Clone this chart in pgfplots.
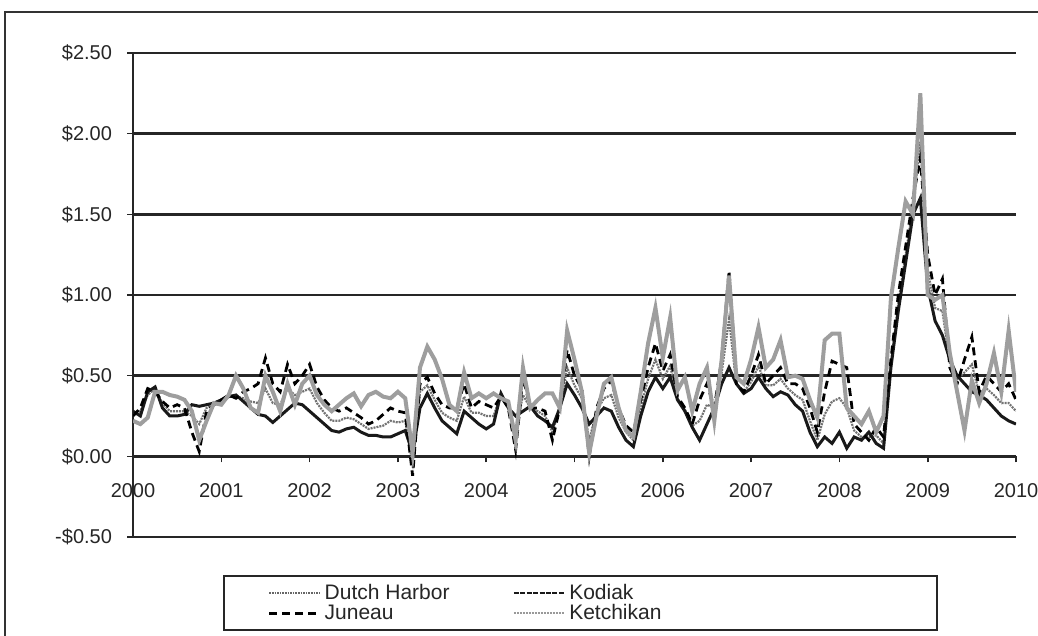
\documentclass[border=0pt]{standalone}
\usepackage{fontspec}
\setmainfont{Liberation Sans}
\usepackage{pgfplots}
\pgfplotsset{compat=1.18}
\usepackage{pgfplotstable}

\pgfplotstableread{
m DH KO JU KE
0 0.26 0.28 0.25 0.22
1 0.28 0.25 0.30 0.20
2 0.38 0.40 0.42 0.24
3 0.42 0.43 0.40 0.40
4 0.33 0.30 0.34 0.40
5 0.28 0.25 0.30 0.38
6 0.28 0.25 0.32 0.37
7 0.28 0.26 0.30 0.35
8 0.25 0.32 0.15 0.28
9 0.20 0.31 0.03 0.10
10 0.30 0.32 0.28 0.22
11 0.32 0.33 0.32 0.33
12 0.34 0.35 0.35 0.32
13 0.37 0.37 0.38 0.38
14 0.37 0.38 0.36 0.50
15 0.36 0.34 0.40 0.42
16 0.34 0.30 0.42 0.30
17 0.33 0.26 0.45 0.27
18 0.42 0.25 0.61 0.50
19 0.33 0.21 0.45 0.40
20 0.32 0.25 0.40 0.28
21 0.42 0.29 0.57 0.45
22 0.38 0.33 0.45 0.32
23 0.40 0.32 0.50 0.45
24 0.42 0.28 0.57 0.50
25 0.33 0.24 0.43 0.38
26 0.27 0.20 0.35 0.32
27 0.22 0.16 0.30 0.28
28 0.22 0.15 0.28 0.32
29 0.24 0.17 0.30 0.36
30 0.23 0.18 0.27 0.39
31 0.20 0.15 0.24 0.31
32 0.17 0.13 0.20 0.38
33 0.18 0.13 0.22 0.40
34 0.19 0.12 0.26 0.37
35 0.22 0.12 0.30 0.36
36 0.21 0.14 0.28 0.40
37 0.22 0.16 0.27 0.36
38 -0.05 0.02 -0.12 0.02
39 0.40 0.30 0.45 0.55
40 0.44 0.39 0.49 0.68
41 0.35 0.30 0.39 0.60
42 0.27 0.22 0.32 0.48
43 0.24 0.18 0.30 0.32
44 0.22 0.14 0.30 0.28
45 0.37 0.28 0.45 0.52
46 0.27 0.24 0.30 0.36
47 0.27 0.20 0.34 0.39
48 0.25 0.17 0.32 0.36
49 0.25 0.20 0.30 0.39
50 0.38 0.39 0.37 0.36
51 0.30 0.30 0.30 0.34
52 0.15 0.25 0.04 0.10
53 0.38 0.28 0.49 0.55
54 0.30 0.31 0.30 0.30
55 0.28 0.25 0.30 0.35
56 0.25 0.22 0.28 0.39
57 0.15 0.18 0.10 0.39
58 0.30 0.30 0.30 0.30
59 0.55 0.45 0.66 0.78
60 0.44 0.38 0.50 0.60
61 0.36 0.30 0.42 0.40
62 0.10 0.20 0.00 0.02
63 0.28 0.25 0.30 0.25
64 0.36 0.30 0.42 0.45
65 0.38 0.28 0.47 0.49
66 0.24 0.18 0.30 0.30
67 0.15 0.10 0.19 0.16
68 0.10 0.06 0.15 0.12
69 0.30 0.25 0.35 0.40
70 0.48 0.40 0.55 0.70
71 0.60 0.49 0.70 0.92
72 0.48 0.42 0.53 0.61
73 0.56 0.49 0.63 0.86
74 0.36 0.35 0.37 0.41
75 0.29 0.28 0.30 0.49
76 0.19 0.18 0.20 0.28
77 0.22 0.10 0.35 0.45
78 0.32 0.20 0.45 0.55
79 0.30 0.30 0.30 0.22
80 0.52 0.45 0.60 0.60
81 0.85 0.55 1.15 1.12
82 0.45 0.45 0.45 0.49
83 0.40 0.39 0.40 0.45
84 0.46 0.42 0.50 0.60
85 0.56 0.49 0.63 0.80
86 0.44 0.42 0.45 0.55
87 0.44 0.37 0.50 0.60
88 0.48 0.40 0.55 0.72
89 0.42 0.38 0.45 0.49
90 0.38 0.32 0.45 0.50
91 0.35 0.28 0.42 0.48
92 0.22 0.15 0.30 0.35
93 0.10 0.06 0.15 0.24
94 0.26 0.12 0.40 0.72
95 0.34 0.08 0.59 0.76
96 0.36 0.15 0.57 0.76
97 0.30 0.05 0.55 0.30
98 0.16 0.12 0.20 0.25
99 0.12 0.10 0.15 0.20
100 0.12 0.15 0.10 0.28
101 0.13 0.08 0.18 0.15
102 0.08 0.05 0.12 0.25
103 0.58 0.55 0.60 0.98
104 0.95 0.90 1.00 1.29
105 1.25 1.20 1.30 1.58
106 1.55 1.50 1.60 1.50
107 1.95 1.60 1.85 2.25
108 1.15 1.05 1.25 1.00
109 0.92 0.84 1.00 0.97
110 0.90 0.75 1.10 1.00
111 0.58 0.60 0.55 0.64
112 0.48 0.50 0.45 0.40
113 0.52 0.45 0.60 0.16
114 0.57 0.40 0.74 0.47
115 0.39 0.38 0.40 0.33
116 0.42 0.35 0.50 0.45
117 0.38 0.30 0.45 0.64
118 0.33 0.25 0.40 0.40
119 0.33 0.22 0.45 0.78
120 0.28 0.20 0.35 0.40
}\data

\begin{document}
\begin{tikzpicture}
\path[use as bounding box] (0pt,0pt) rectangle (519pt,318pt);
\draw[black!80, line width=1pt] (2.5pt,0pt) -- (2.5pt,312pt) -- (519pt,312pt);
\begin{axis}[
  at={(66.5pt,49.5pt)}, anchor=south west,
  scale only axis, width=441.5pt, height=242pt,
  xmin=0, xmax=120, ymin=-0.5, ymax=2.5,
  axis y line*=left, axis x line*=middle,
  hide obscured x ticks=false,
  xtick={0,12,...,120},
  xticklabels={2000,2001,2002,2003,2004,2005,2006,2007,2008,2009,2010},
  ytick={-0.5,0,0.5,1,1.5,2,2.5},
  yticklabels={-\$0.50,\$0.00,\$0.50,\$1.00,\$1.50,\$2.00,\$2.50},
  tick align=outside, major tick length=3pt,
  ymajorgrids, grid style={black!85, line width=1.3pt},
  axis line style={black!85, line width=1.3pt},
  tick style={black!85, line width=0.8pt},
  ticklabel style={font=\fontsize{10}{12}\selectfont, text=black!85},
  xticklabel style={yshift=-7pt},
  yticklabel style={xshift=-4pt},
  legend columns=2,
  legend cell align=left,
  legend image code/.code={\draw[#1] (0pt,0pt) -- (25pt,0pt);},
  legend style={at={(0.507,-0.0785)}, anchor=north, draw=black!85, line width=1pt,
    font=\fontsize{10.5}{11}\selectfont, text=black!85, inner xsep=22pt, inner ysep=2pt,
    row sep=-3pt,
    /tikz/every even column/.append style={column sep=0pt}},
]
\addplot[black!55, line width=1.1pt, dash pattern=on 1pt off 0.5pt, forget plot] table[x=m, y=DH] {\data};
\addplot[black!90, line width=1.5pt, forget plot] table[x=m, y=KO] {\data};
\addplot[black, line width=1.4pt, dash pattern=on 4pt off 2.5pt, forget plot] table[x=m, y=JU] {\data};
\addplot[black!38, line width=2pt, forget plot] table[x=m, y=KE] {\data};
\addlegendimage{black!60, line width=1pt, dash pattern=on 0.8pt off 0.5pt}
\addlegendentry{\makebox[92pt][l]{Dutch Harbor}}
\addlegendimage{black!90, line width=1.3pt, dash pattern=on 2.5pt off 0.7pt}
\addlegendentry{\makebox[160pt][l]{Kodiak}}
\addlegendimage{black, line width=1.3pt, dash pattern=on 4pt off 2.5pt}
\addlegendentry{\makebox[92pt][l]{Juneau}}
\addlegendimage{black!40, line width=1pt, dash pattern=on 1pt off 0.5pt}
\addlegendentry{\makebox[160pt][l]{Ketchikan}}
\end{axis}
\end{tikzpicture}
\end{document}
